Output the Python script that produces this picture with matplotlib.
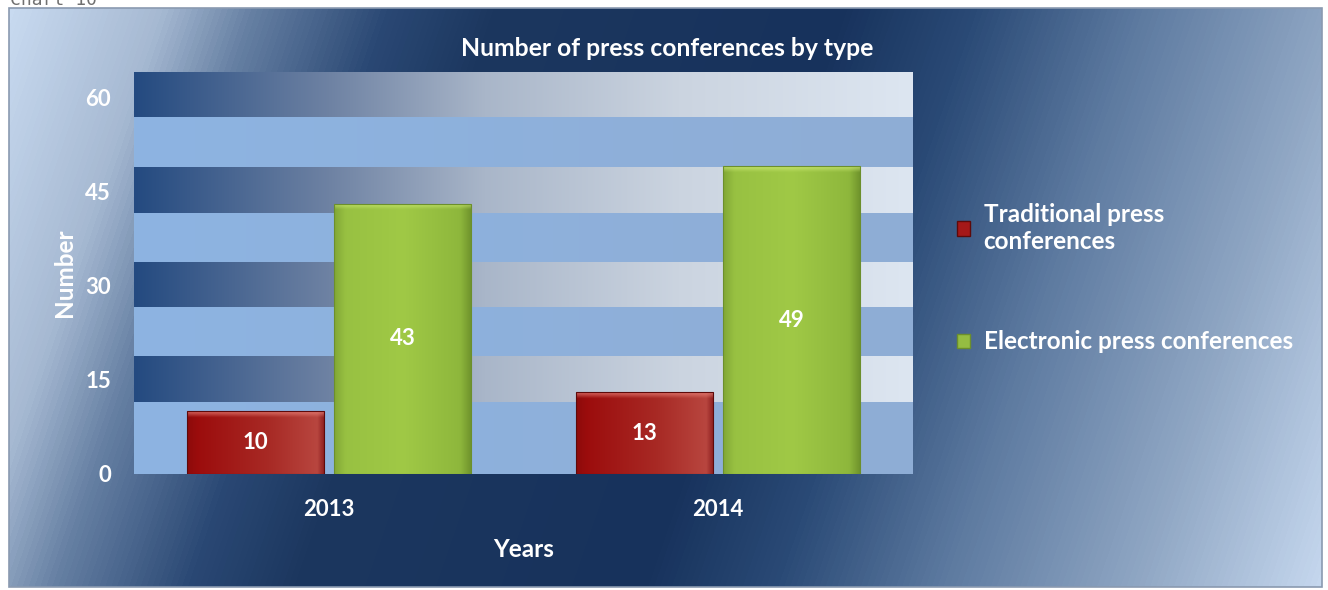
import numpy as np
import matplotlib.pyplot as plt
from matplotlib.colors import LinearSegmentedColormap, to_rgb
from matplotlib.patches import Rectangle, Patch

plt.rcParams['font.family'] = ['Lato', 'DejaVu Sans']

years = ['2013', '2014']
traditional = [10, 13]
electronic = [43, 49]
series_names = ['Traditional press\nconferences', 'Electronic press conferences']

W, H = 1328, 590
fig = plt.figure(figsize=(W / 100, H / 100), dpi=100)
fig.patch.set_facecolor('white')

# chart area: diagonal light-dark-light gradient
bg = fig.add_axes([0, 0, 1, 1], zorder=-5)
bg.set_xlim(0, W)
bg.set_ylim(H, 0)
bg.axis('off')
cx0, cx1, cy0, cy1 = 9, 1322, 8, 587
yy, xx = np.mgrid[cy0:cy1, cx0:cx1]
t = (xx + 0.345 * yy) / (cx1 + 0.345 * cy1)
bg_cmap = LinearSegmentedColormap.from_list('bg', [
    (0.0, '#c8daf0'), (0.1, '#a6b9d2'), (0.16, '#6680a3'), (0.25, '#2a4874'),
    (0.32, '#1c375f'), (0.55, '#17325c'), (0.64, '#2a4a76'),
    (0.75, '#5d7aa0'), (0.88, '#90a7c4'), (1.0, '#c5d7ee')])
bg.imshow(t, cmap=bg_cmap, extent=[cx0, cx1, cy1, cy0], aspect='auto',
          interpolation='bilinear')
bg.add_patch(Rectangle((cx0, cy0), cx1 - cx0, cy1 - cy0, fill=False,
                       ec='#8a9ab0', lw=1.2))
fig.text(10 / W, 1 - 5 / H, 'Chart 10', color='#707070', fontsize=13,
         family='DejaVu Sans Mono', ha='left', va='baseline')

ax = fig.add_axes([134 / W, 1 - 474 / H, (913 - 134) / W, (474 - 72) / H])
ax.set_facecolor('none')


def ramp(stops, n):
    pos = [p for p, _ in stops]
    cols = np.array([to_rgb(c) for _, c in stops])
    u = np.linspace(0, 1, n)
    return np.stack([np.interp(u, pos, cols[:, k]) for k in range(3)], axis=1)


# striped plot area fill
nrow, ncol = 402, 400
dark_row = ramp([(0, '#244a80'), (0.25, '#6e82a3'), (0.45, '#a9b6c9'),
                 (0.7, '#cbd4e0'), (1, '#dde6f1')], ncol)
light_row = ramp([(0, '#8db4e2'), (1, '#8fadd5')], ncol)
dark_bands = [(0.179, 0.2935), (0.415, 0.527), (0.649, 0.764), (0.888, 1.0)]
frac = (np.arange(nrow) + 0.5) / nrow
stripes = np.empty((nrow, ncol, 3))
for i, f in enumerate(frac):
    is_dark = any(a <= f < b for a, b in dark_bands)
    stripes[i] = dark_row if is_dark else light_row
ax.imshow(stripes, extent=[0, 1, 0, 1], transform=ax.transAxes,
          origin='lower', aspect='auto', zorder=0)

x = np.arange(len(years))
width = 0.352
off = 0.189
bars_t = ax.bar(x - off, traditional, width, facecolor='none',
                edgecolor='#5e0a0a', lw=0.8, zorder=3)
bars_e = ax.bar(x + off, electronic, width, facecolor='none',
                edgecolor='#6c8f2c', lw=0.8, zorder=3)

ymax = 64
bevel = 1.0


def shade(rect, body, top):
    x0, w, h = rect.get_x(), rect.get_width(), rect.get_height()
    ny = 300
    row = ramp(body, 80)
    img = np.repeat(row[None, :, :], ny, axis=0)
    fy = (np.arange(ny) + 0.5) / ny * h
    k = np.clip(1 - (h - fy) / bevel, 0, 1)[:, None, None]
    img = img * (1 - 0.75 * k) + np.array(to_rgb(top)) * 0.75 * k
    im = ax.imshow(img, extent=[x0, x0 + w, 0, h], origin='lower',
                   aspect='auto', zorder=2, interpolation='bilinear')
    im.set_clip_path(rect)


for r in bars_t:
    shade(r, [(0, '#8e0b0b'), (0.08, '#9c0d0d'), (0.6, '#a82a25'),
              (0.95, '#b8463f'), (1, '#8e2020')], '#f08a80')
for r in bars_e:
    shade(r, [(0, '#82a836'), (0.08, '#98c142'), (0.5, '#a0c946'),
              (0.92, '#8eb73c'), (1, '#6f932c')], '#d2ee7a')

ax.bar_label(bars_t, labels=[str(v) for v in traditional], label_type='center',
             color='white', fontsize=16, fontweight='bold')
ax.bar_label(bars_e, labels=[str(v) for v in electronic], label_type='center',
             color='white', fontsize=16, fontweight='bold')

ax.set_xlim(-0.5, 1.5)
ax.set_ylim(0, ymax)
ax.set_xticks(x)
ax.set_xticklabels(years)
ax.set_yticks([0, 15, 30, 45, 60])
for s in ax.spines.values():
    s.set_visible(False)
ax.tick_params(length=0, labelcolor='white', labelsize=16)
ax.tick_params(axis='y', pad=16.5)
ax.tick_params(axis='x', pad=18)
for lab in ax.get_xticklabels() + ax.get_yticklabels():
    lab.set_fontweight('bold')
ax.set_xlabel('Years', color='white', fontsize=17.5, fontweight='bold',
              labelpad=13)
ax.set_ylabel('Number', color='white', fontsize=17.5, fontweight='bold',
              labelpad=7)

fig.text(667 / W, 1 - 48 / H, 'Number of press conferences by type',
         color='white', fontsize=17.8, fontweight='bold', ha='center',
         va='center')

handles = [Patch(facecolor='#a51818', edgecolor='#5e0a0a'),
           Patch(facecolor='#95bd42', edgecolor='#6c8f2c')]
fig.legend(handles, series_names, loc='upper left',
           bbox_to_anchor=(935 / W, 1 - 181 / H), frameon=False,
           labelcolor='white', prop=dict(weight='bold', size=17.5),
           labelspacing=3.2, handlelength=0.55, handleheight=0.55,
           handletextpad=0.55)

fig.savefig('out.png', dpi=100)
